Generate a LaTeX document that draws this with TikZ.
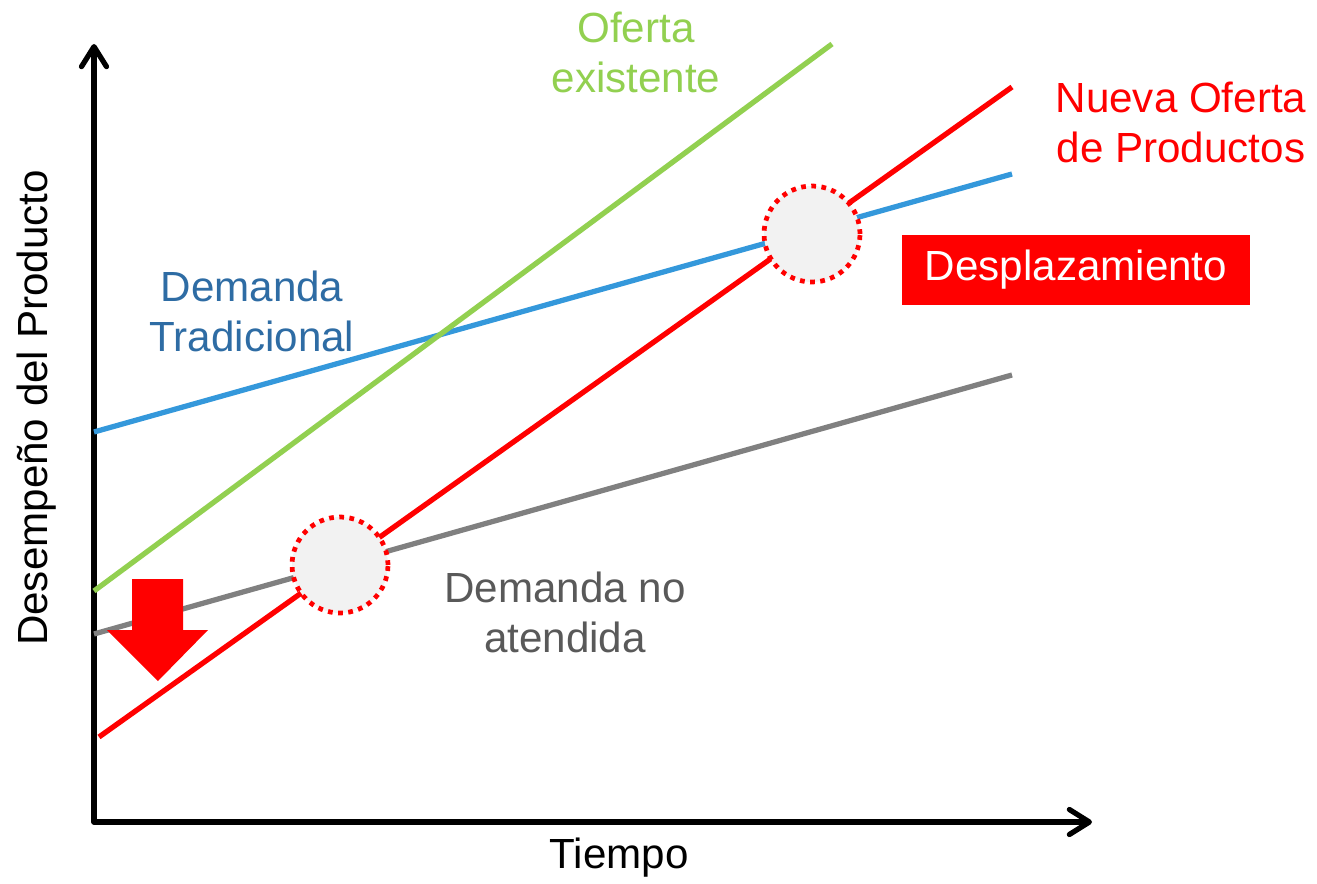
\documentclass[tikz,border=0pt]{standalone}
\usepackage{fontspec}
\setmainfont{Liberation Sans}
\usetikzlibrary{arrows.meta}

\definecolor{tradblue}{RGB}{52,152,219}
\definecolor{tradtext}{RGB}{46,108,164}
\definecolor{existgreen}{RGB}{146,208,80}
\definecolor{noatgray}{RGB}{128,128,128}
\definecolor{noattext}{RGB}{89,89,89}

\begin{document}
\begin{tikzpicture}[x=0.02cm,y=-0.02cm,
	trendline/.style={line width=3pt},
	axisline/.style={line width=3pt,line join=round,{Straight Barb[length=4mm,width=5mm,round]}-{Straight Barb[length=4mm,width=5mm,round]}},
	chartlabel/.style={font=\fontsize{24}{28.5}\selectfont,align=center},
	crossmark/.style={circle,minimum size=1.92cm,fill=black!5,draw=red,line width=2.7pt,dash pattern=on 2.7pt off 3.1pt}]
		
		\useasboundingbox (0,0) rectangle (1317,884);
		
		% axes
		\coordinate (ytop) at (94,44);
		\coordinate (origin) at (94,822);
		\coordinate (xend) at (1092,822);
		\draw[axisline] (ytop) -- (origin) -- (xend);
		
		% lines
		\coordinate (trad0) at (94,432);
		\coordinate (trad1) at (1012,174);
		\coordinate (exist0) at (94,591);
		\coordinate (exist1) at (832,44);
		\coordinate (noat0) at (94,634);
		\coordinate (noat1) at (1012,375);
		\coordinate (nueva0) at (99,737);
		\coordinate (nueva1) at (1012,87);
		
		\draw[trendline,tradblue] (trad0) -- (trad1);
		\draw[trendline,existgreen] (exist0) -- (exist1);
		\draw[trendline,noatgray] (noat0) -- (noat1);
		\draw[trendline,red] (nueva0) -- (nueva1);
		
		% crossings
		\node[crossmark] (cruce1) at (340,565) {};
		\node[crossmark] (cruce2) at (812,234) {};
		
		% down arrow
		\fill[red] (132,579) -- (183,579) -- (183,630) -- (208,630) -- (158,681) -- (107,630) -- (132,630) -- cycle;
		
		% labels
		\node[chartlabel,existgreen] (existlabel) at (636,52) {Oferta\\existente};
		\node[chartlabel,red] (nuevalabel) at (1181,122) {Nueva Oferta\\de Productos};
		\node[chartlabel,tradtext] (tradlabel) at (252,311) {Demanda\\Tradicional};
		\node[chartlabel,noattext] (noatlabel) at (565,612) {Demanda no\\atendida};
		\node[chartlabel,fill=red,text=white,minimum width=6.96cm,minimum height=1.4cm] (despl) at (1076,270) {Desplazamiento};
		
		\node[chartlabel] (xlabel) at (619,858) {Tiempo};
		\node[chartlabel,rotate=90] (ylabel) at (37,408) {Desempeño del Producto};
		
	\end{tikzpicture}
\end{document}
